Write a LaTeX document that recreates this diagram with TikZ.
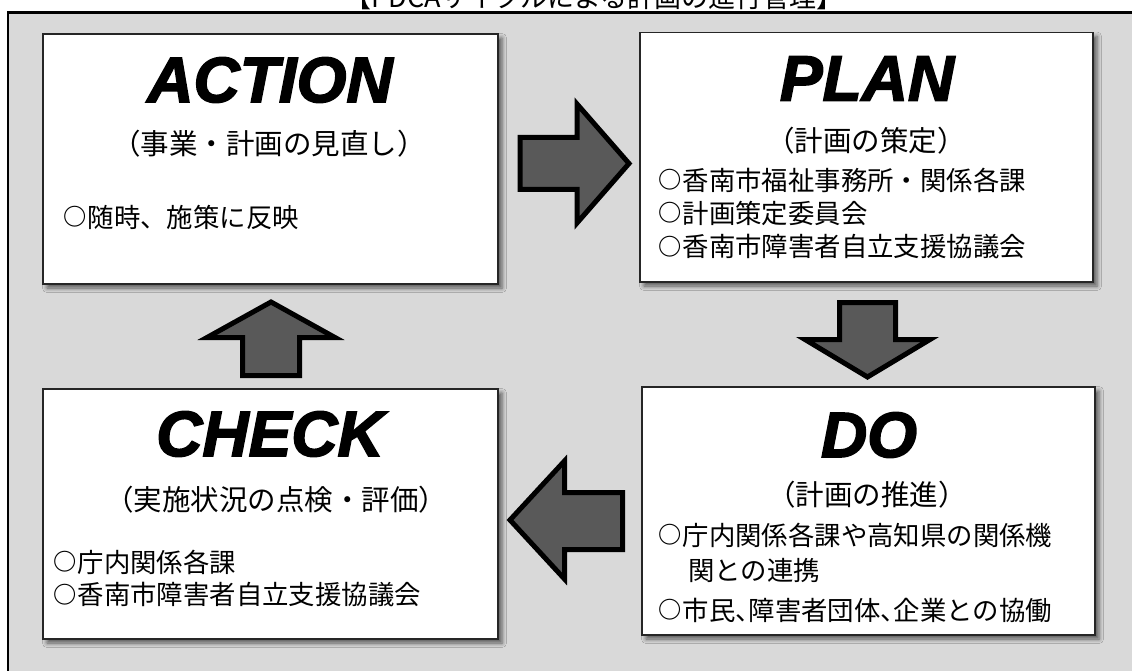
\documentclass[tikz,border=0pt]{standalone}
\usepackage{fontspec}
\setmainfont{Noto Sans CJK JP}
\newfontfamily\jphalt{Noto Sans CJK JP}[RawFeature=+halt]
\newfontfamily\headfont{Liberation Sans}[BoldItalicFeatures={FakeBold=2.5}]
\usetikzlibrary{shadows.blur}
\definecolor{panelgrey}{RGB}{217,217,217}
\definecolor{arrowgrey}{RGB}{89,89,89}
\newcommand\maru{\makebox[0.93em][l]{\raisebox{0.06em}{\scalebox{0.88}{\bfseries ○}}}}
\tikzset{
  pdcabox/.style={rectangle, draw=black!85, line width=1.5pt, fill=white, inner sep=0pt,
    blur shadow={shadow xshift=4pt, shadow yshift=-4pt, shadow blur radius=4.5pt, shadow opacity=60}},
  headtxt/.style={font=\headfont\bfseries\itshape\fontsize{64}{64}\selectfont, inner sep=0pt},
  subtxt/.style={font=\fontsize{28.5}{34}\selectfont, inner sep=0pt},
  bodytxt/.style={font=\fontsize{26.4}{34}\selectfont, inner sep=0pt, anchor=west},
  blockarrow/.style={fill=arrowgrey, draw=black, line width=5pt, line join=miter},
}
\begin{document}
\begin{tikzpicture}[x=1pt,y=-1pt]
\useasboundingbox (0,0) rectangle (1132,671);
\clip (0,0) rectangle (1132,671);
% title (cut off at the top, as in the reference)
\node[anchor=base, font=\fontsize{27}{27}\selectfont, inner sep=0pt] (title) at (594,8) {【PDCAサイクルによる計画の進行管理】};
% panel
\fill[panelgrey] (8,12.5) rectangle (1145,690);
\draw[line width=2.5pt] (8,690) -- (8,12.5) -- (1145,12.5);
% boxes
\node[pdcabox, minimum width=455pt, minimum height=250pt] (action) at (270.5,159) {};
\node[pdcabox, minimum width=453pt, minimum height=249.5pt] (plan) at (866.5,157.25) {};
\node[pdcabox, minimum width=455pt, minimum height=250pt] (check) at (270.5,514) {};
\node[pdcabox, minimum width=453pt, minimum height=248pt] (do) at (868.5,511) {};
% ACTION
\node[headtxt] (acth) at (270,80) {ACTION};
\node[subtxt] (acts) at (269,144) {（事業・計画の見直し）};
\node[bodytxt] (actb) at (63,217) {\maru 随時、施策に反映};
% PLAN
\node[headtxt] (planh) at (867,78.5) {PLAN};
\node[subtxt] (plans) at (866,141) {（計画の策定）};
\node[bodytxt] (planb1) at (658,180) {\maru 香南市福祉事務所・関係各課};
\node[bodytxt] (planb2) at (658,213.5) {\maru 計画策定委員会};
\node[bodytxt] (planb3) at (658,247) {\maru 香南市障害者自立支援協議会};
% CHECK
\node[headtxt] (checkh) at (270,434) {CHECK};
\node[subtxt] (checks) at (276,500) {（実施状況の点検・評価）};
\node[bodytxt] (checkb1) at (53,562) {\maru 庁内関係各課};
\node[bodytxt] (checkb2) at (53,595) {\maru 香南市障害者自立支援協議会};
% DO
\node[headtxt] (doh) at (869,435) {DO};
\node[subtxt] (dos) at (867,495) {（計画の推進）};
\node[bodytxt] (dob1) at (658,535) {\maru 庁内関係各課や高知県の関係機};
\node[bodytxt] (dob2) at (688,570) {関との連携};
\node[bodytxt, font=\jphalt\fontsize{26.4}{34}\selectfont] (dob3) at (658,610) {\maru 市民、障害者団体、企業との協働};
% block arrows
\draw[blockarrow] (520,137.5) -- (577,137.5) -- (577,104) -- (629,163.5) -- (577,223) -- (577,189.5) -- (520,189.5) -- cycle;
\draw[blockarrow] (839.5,302.5) -- (895.5,302.5) -- (895.5,339.5) -- (930,339.5) -- (867.5,377) -- (805,339.5) -- (839.5,339.5) -- cycle;
\draw[blockarrow] (510,520) -- (564.5,461) -- (564.5,492.5) -- (622.5,492.5) -- (622.5,549.5) -- (564.5,549.5) -- (564.5,579) -- cycle;
\draw[blockarrow] (271,302) -- (335,337.5) -- (299.5,337.5) -- (299.5,375.5) -- (242.5,375.5) -- (242.5,337.5) -- (207,337.5) -- cycle;
\end{tikzpicture}
\end{document}
